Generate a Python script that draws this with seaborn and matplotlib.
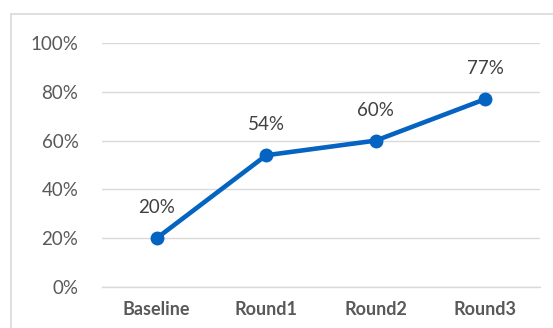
import matplotlib
matplotlib.use("Agg")
import matplotlib.pyplot as plt
import matplotlib.patches as patches
import seaborn as sns
import pandas as pd
import numpy as np

# chart data
rounds = ["Baseline", "Round1", "Round2", "Round3"]
pct = [20, 54, 60, 77]
y_ticks = [0, 20, 40, 60, 80, 100]

df = pd.DataFrame({"round": rounds, "pct": pct})

sns.set_style("white")
plt.rcParams['font.family'] = ['Lato', 'DejaVu Sans']

fig = plt.figure(figsize=(5.53, 3.28), dpi=100)
ax = fig.add_axes([102 / 553, 41 / 328, 438 / 553, 244 / 328])

# outer chart border (left and top only visible)
fig.patches.append(patches.Rectangle((11 / 553, -0.1), 1.2, 1.1 - 14 / 328,
                                     transform=fig.transFigure, fill=False,
                                     edgecolor="#d9d9d9", linewidth=1.2))

sns.lineplot(data=df, x="round", y="pct", ax=ax, color="#0563C1",
             linewidth=3.3, marker="o", markersize=10, markeredgewidth=0,
             sort=False)

for i, v in enumerate(pct):
    ax.annotate(f"{v}%", (i, v), xytext=(0, 22), textcoords="offset points",
                ha="center", va="center", fontsize=13.5, color="#404040")

ax.set_xlim(-0.5, len(rounds) - 0.5)
ax.set_ylim(0, 100)
ax.set_yticks(y_ticks)
ax.set_yticklabels([f"{t}%" for t in y_ticks], fontsize=13.5, color="#595959")
ax.set_xticks(range(len(rounds)))
ax.set_xticklabels(rounds, fontsize=13, fontweight="bold", color="#595959")
ax.set_xticks(np.arange(-0.5, len(rounds)), minor=True)
ax.tick_params(axis="x", which="major", length=0, pad=10)
ax.tick_params(axis="x", which="minor", length=4, width=1, color="#d9d9d9", direction="out")
ax.tick_params(axis="y", length=0, pad=17)
ax.set_xlabel("")
ax.set_ylabel("")

ax.grid(axis="y", color="#d9d9d9", linewidth=1)
ax.set_axisbelow(True)
for s in ["top", "right", "left"]:
    ax.spines[s].set_visible(False)
ax.spines["bottom"].set_color("#d9d9d9")
ax.spines["bottom"].set_linewidth(1)

fig.savefig("out.png", dpi=100)
